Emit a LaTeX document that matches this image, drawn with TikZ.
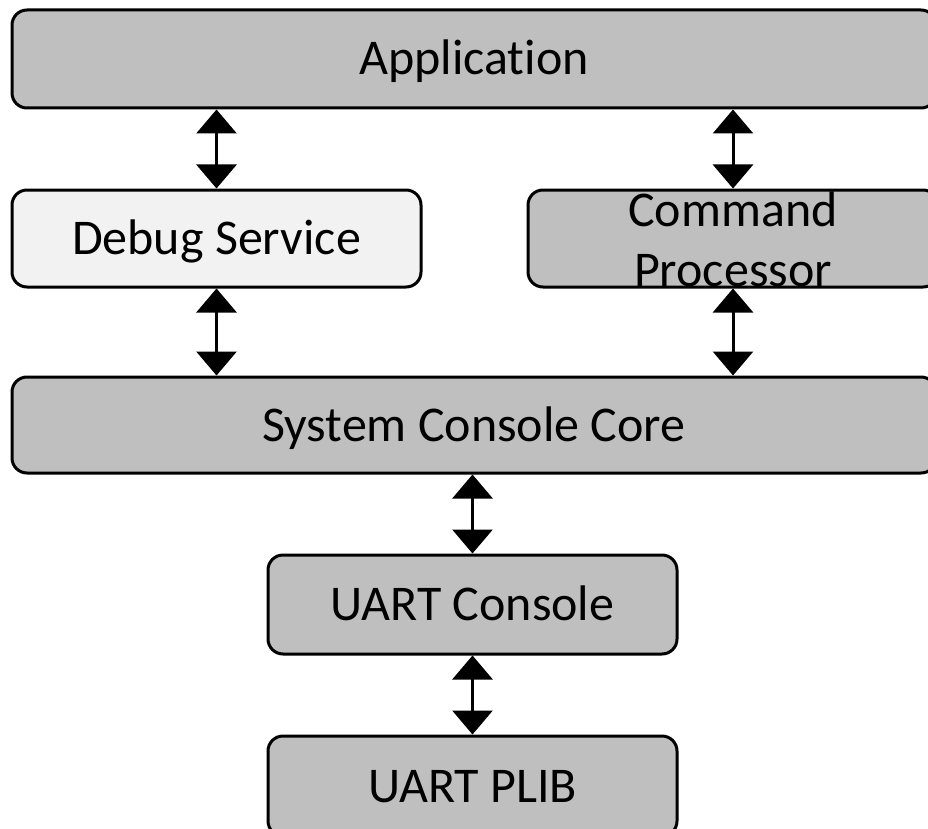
\documentclass[tikz,border=0pt]{standalone}
\usepackage{fontspec}
\setmainfont{Carlito}[RawFeature=-liga]
\usetikzlibrary{arrows.meta,calc}

\definecolor{blockgray}{HTML}{BFBFBF}
\definecolor{blocklight}{HTML}{F2F2F2}

\tikzset{
  block/.style={draw=black, line width=3pt, rounded corners=15pt,
    fill=blockgray, inner sep=0pt, text=black,
    font=\fontsize{50}{60}\selectfont,
    text height=32pt, text depth=0pt},
  lightblock/.style={block, fill=blocklight},
  biarrow/.style={line width=3pt,
    {Triangle[width=40pt,length=24pt]}-{Triangle[width=40pt,length=24pt]}},
}

\begin{document}
\begin{tikzpicture}[x=1pt,y=-1pt]
  \useasboundingbox (0,0) rectangle (928,829);
  \clip (0,0) rectangle (928,829);

  % layers of the console stack
  \node[block, minimum width=924pt, minimum height=98pt] (app) at (474,59) {Application};
  \node[lightblock, minimum width=409pt, minimum height=97pt] (dbg) at (216.5,238.5) {Debug Service};
  \node[block, minimum width=410pt, minimum height=97pt] (cmd) at (733,238.5) {};
  \node[font=\fontsize{50}{60}\selectfont, align=center, inner sep=0pt] (cmdtext)
    at ($(cmd.center)+(0,1)$) {Command\\Processor};
  \node[block, minimum width=924pt, minimum height=96pt] (scc) at (474,425) {System Console Core};
  \node[block, minimum width=409pt, minimum height=99pt] (uart) at (472.5,604.5) {UART Console};
  \node[block, minimum width=409pt, minimum height=100pt] (plib) at (472.5,786) {UART PLIB};

  % bidirectional links between the layers
  \draw[biarrow] (app.south -| dbg.north) -- (dbg.north);
  \draw[biarrow] (app.south -| cmd.north) -- (cmd.north);
  \draw[biarrow] (dbg.south) -- (scc.north -| dbg.south);
  \draw[biarrow] (cmd.south) -- (scc.north -| cmd.south);
  \draw[biarrow] (scc.south -| uart.north) -- (uart.north);
  \draw[biarrow] (uart.south) -- (plib.north);
\end{tikzpicture}
\end{document}
